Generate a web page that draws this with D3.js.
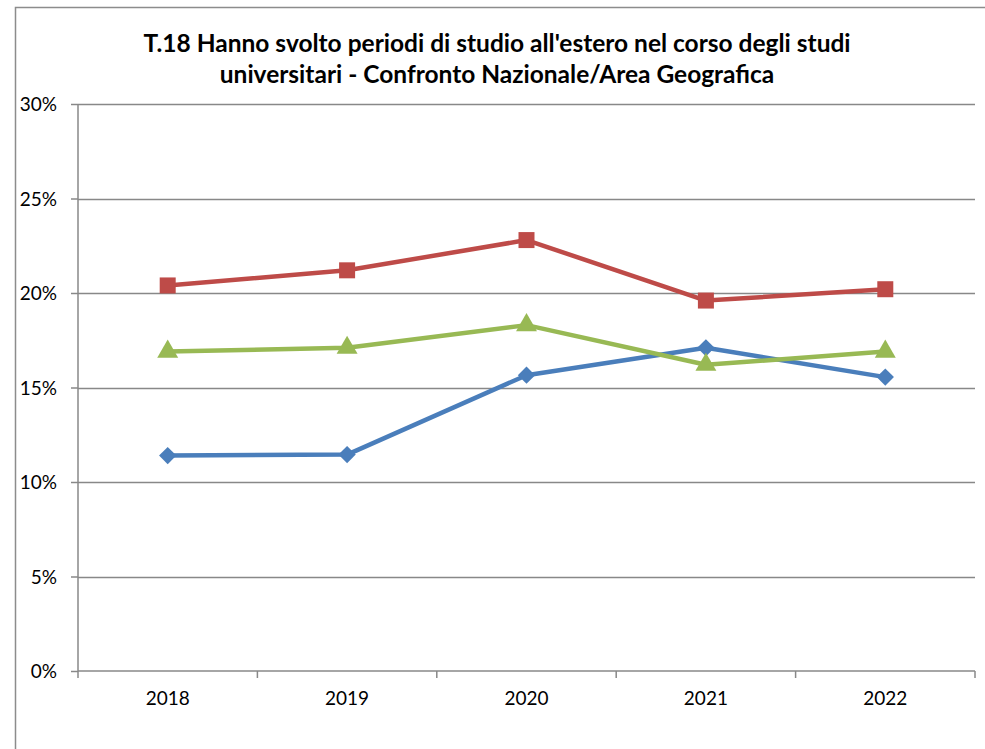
<!DOCTYPE html>
<html>
<head>
<meta charset="utf-8">
<script src="https://cdn.jsdelivr.net/npm/d3@7"></script>
<style>
  body { margin: 0; background: #fff; }
  svg text { font-family: Lato, "Open Sans", sans-serif; fill: #000; }
</style>
</head>
<body>
<div id="chart"></div>
<script>
var years = ["2018", "2019", "2020", "2021", "2022"];
var blueSeries = [11.4, 11.45, 15.65, 17.1, 15.55];
var redSeries = [20.4, 21.2, 22.8, 19.6, 20.2];
var greenSeries = [16.9, 17.1, 18.3, 16.2, 16.9];
var yTicks = [0, 5, 10, 15, 20, 25, 30];
var titleLines = ["T.18 Hanno svolto periodi di studio all'estero nel corso degli studi",
                  "universitari - Confronto Nazionale/Area Geografica"];

var width = 985, height = 749;
var margin = { left: 78, right: 10, top: 104, bottom: 78 };

var svg = d3.select("#chart").append("svg")
    .attr("width", width)
    .attr("height", height);

// chart frame (runs off the page like the original)
svg.append("rect")
    .attr("x", 15.5).attr("y", 7.5)
    .attr("width", 1000).attr("height", 800)
    .attr("fill", "none")
    .attr("stroke", "#8c8c8c")
    .attr("stroke-width", 1.5);

var x = d3.scaleBand()
    .domain(years)
    .range([margin.left, width - margin.right]);

var y = d3.scaleLinear()
    .domain([0, 30])
    .range([height - margin.bottom, margin.top]);

// gridlines
svg.append("g")
    .selectAll("line")
    .data(yTicks.slice(1))
    .enter().append("line")
        .attr("x1", margin.left).attr("x2", width - margin.right)
        .attr("y1", function(d) { return Math.round(y(d)) + 0.5; })
        .attr("y2", function(d) { return Math.round(y(d)) + 0.5; })
        .attr("stroke", "#888")
        .attr("stroke-width", 1.3);

// y axis
var yAxis = svg.append("g")
    .attr("transform", "translate(" + margin.left + ",0)")
    .call(d3.axisLeft(y).tickValues(yTicks).tickSize(7).tickPadding(14)
        .tickFormat(function(d) { return d + "%"; }));
yAxis.selectAll("text").attr("font-size", 19).attr("dy", "0.35em");

// x axis, ticks between categories
var xAxis = svg.append("g")
    .attr("transform", "translate(0," + y(0) + ")")
    .call(d3.axisBottom(x).tickSize(0).tickPadding(21));
xAxis.selectAll("text").attr("font-size", 19);
xAxis.selectAll(".tick line").remove();
xAxis.selectAll("line.sep")
    .data(years.map(function(d) { return x(d); }).concat([x.range()[1]]))
    .enter().append("line")
        .attr("class", "sep")
        .attr("x1", function(d) { return d; }).attr("x2", function(d) { return d; })
        .attr("y1", 0).attr("y2", 7);

svg.selectAll(".domain, .tick line, line.sep")
    .attr("stroke", "#888")
    .attr("stroke-width", 1.5);
yAxis.select(".domain").remove();
xAxis.select(".domain").remove();
svg.append("line")
    .attr("x1", margin.left).attr("x2", margin.left)
    .attr("y1", margin.top).attr("y2", y(0))
    .attr("stroke", "#888").attr("stroke-width", 1.5);
svg.append("line")
    .attr("x1", margin.left).attr("x2", width - margin.right)
    .attr("y1", y(0)).attr("y2", y(0))
    .attr("stroke", "#888").attr("stroke-width", 1.5);

// title
svg.append("g")
    .selectAll("text")
    .data(titleLines)
    .enter().append("text")
        .attr("x", 497)
        .attr("y", function(d, i) { return 52 + i * 31; })
        .attr("text-anchor", "middle")
        .attr("font-size", 24.5)
        .attr("font-weight", "bold")
        .text(function(d) { return d; });

var cx = function(d, i) { return x(years[i]) + x.bandwidth() / 2; };

var series = [
    { values: blueSeries, color: "#4A7EBB", symbol: d3.symbolSquare, size: 150, rot: 45 },
    { values: redSeries, color: "#BE4B48", symbol: d3.symbolSquare, size: 256, rot: 0 },
    { values: greenSeries, color: "#98B954", symbol: d3.symbolTriangle, size: 190, rot: 0 }
];

var line = d3.line()
    .x(cx)
    .y(function(d) { return y(d); });

series.forEach(function(s) {
    svg.append("path")
        .datum(s.values)
        .attr("d", line)
        .attr("fill", "none")
        .attr("stroke", s.color)
        .attr("stroke-width", 4.5)
        .attr("stroke-linejoin", "round");

    svg.append("g")
        .selectAll("path")
        .data(s.values)
        .enter().append("path")
            .attr("d", d3.symbol().type(s.symbol).size(s.size))
            .attr("transform", function(d, i) {
                return "translate(" + cx(d, i) + "," + y(d) + ") rotate(" + s.rot + ")";
            })
            .attr("fill", s.color);
});
</script>
</body>
</html>
